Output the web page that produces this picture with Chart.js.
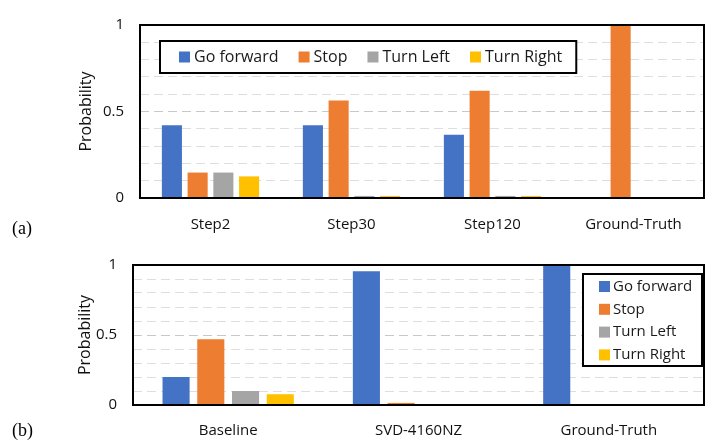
<!DOCTYPE html>
<html>
<head>
<meta charset="utf-8">
<script src="https://cdn.jsdelivr.net/npm/chart.js@4.4.0/dist/chart.umd.min.js"></script>
<style>
  body { margin: 0; background: #fff; }
  #wrap { position: relative; width: 713px; height: 445px; }
  .box { position: absolute; left: 0; width: 713px; }
  .tag { position: absolute; left: 12px; font: 18px "Liberation Serif", serif; color: #000; }
</style>
</head>
<body>
<div id="wrap">
  <div class="box" style="top:0;height:240px"><canvas id="chartA"></canvas></div>
  <div class="box" style="top:240px;height:205px"><canvas id="chartB"></canvas></div>
  <div class="tag" style="top:218px">(a)</div>
  <div class="tag" style="top:420px">(b)</div>
</div>
<script>
// series names + colours
const seriesLabels = ['Go forward', 'Stop', 'Turn Left', 'Turn Right'];
const seriesColors = ['#4472C4', '#ED7D31', '#A5A5A5', '#FFC000'];
const yTickLabels = [0, 0.5, 1];

// (a) steps
const stepsA = ['Step2', 'Step30', 'Step120', 'Ground-Truth'];
const goForwardA = [0.42, 0.42, 0.366, 0];
const stopA = [0.147, 0.563, 0.62, 1];
const turnLeftA = [0.147, 0.012, 0.012, 0];
const turnRightA = [0.125, 0.012, 0.012, 0];

// (b) methods
const methodsB = ['Baseline', 'SVD-4160NZ', 'Ground-Truth'];
const goForwardB = [0.2, 0.955, 1];
const stopB = [0.47, 0.015, 0];
const turnLeftB = [0.1, 0, 0];
const turnRightB = [0.077, 0.004, 0];

const FONT = '"Open Sans", "Liberation Sans", sans-serif';

function makeSets(arrs) {
    return arrs.map(function (d, i) {
        return {
            label: seriesLabels[i],
            data: d,
            backgroundColor: seriesColors[i],
            barPercentage: 0.78,
            categoryPercentage: 0.73
        };
    });
}

// black frame round the plot area
const frame = {
    id: 'frame',
    afterDatasetsDraw(chart) {
        const a = chart.chartArea, ctx = chart.ctx;
        ctx.save();
        ctx.strokeStyle = '#000';
        ctx.lineWidth = 2;
        ctx.strokeRect(a.left, a.top, a.right - a.left, a.bottom - a.top);
        ctx.restore();
    }
};

// legend drawn inside the plot with a boxed border
const boxLegend = {
    id: 'boxLegend',
    afterDraw(chart, args, opts) {
        const ctx = chart.ctx, a = chart.chartArea;
        ctx.save();
        ctx.font = opts.size + 'px ' + FONT;
        ctx.textBaseline = 'middle';
        const items = chart.data.datasets.map(function (d) {
            return { label: d.label, color: d.backgroundColor, w: ctx.measureText(d.label).width };
        });
        const sq = 11, gap = 4;
        let bx, by, bw, bh;
        if (opts.dir === 'row') {
            const sep = 20, pad = 19;
            bw = pad + 14 + sep * (items.length - 1);
            items.forEach(function (it) { bw += sq + gap + it.w; });
            bh = 32;
            bx = a.left + opts.dx;
            by = a.top + opts.dy;
            ctx.fillStyle = '#fff';
            ctx.fillRect(bx, by, bw, bh);
            ctx.strokeStyle = '#000';
            ctx.lineWidth = 2;
            ctx.strokeRect(bx, by, bw, bh);
            let x = bx + pad;
            const cy = by + bh / 2;
            items.forEach(function (it) {
                ctx.fillStyle = it.color;
                ctx.fillRect(x, cy - sq / 2, sq, sq);
                ctx.fillStyle = '#1a1a1a';
                ctx.fillText(it.label, x + sq + gap, cy);
                x += sq + gap + it.w + 20;
            });
        } else {
            bw = 119;
            bh = 92;
            bx = a.right - opts.dx - bw;
            by = a.top + opts.dy;
            ctx.fillStyle = '#fff';
            ctx.fillRect(bx, by, bw, bh);
            ctx.strokeStyle = '#000';
            ctx.lineWidth = 2;
            ctx.strokeRect(bx, by, bw, bh);
            items.forEach(function (it, i) {
                const cy = by + 12.5 + i * 22.8;
                ctx.fillStyle = it.color;
                ctx.fillRect(bx + 16, cy - sq / 2, sq, sq);
                ctx.fillStyle = '#1a1a1a';
                ctx.fillText(it.label, bx + 30, cy);
            });
        }
        ctx.restore();
    }
};

function makeChart(id, labels, sets, cfg) {
    return new Chart(document.getElementById(id), {
        type: 'bar',
        data: { labels: labels, datasets: makeSets(sets) },
        plugins: [frame, boxLegend],
        options: {
            responsive: true,
            maintainAspectRatio: false,
            animation: false,
            layout: { padding: { left: cfg.padLeft, top: cfg.padTop, right: 9, bottom: 0 } },
            plugins: {
                legend: { display: false },
                tooltip: { enabled: false },
                boxLegend: cfg.legend
            },
            scales: {
                x: {
                    grid: { display: false },
                    border: { display: false },
                    ticks: { color: '#111', padding: cfg.xPad, font: { family: FONT, size: 15 } },
                    afterFit: function (s) { s.height = cfg.xHeight; }
                },
                y: {
                    min: 0,
                    max: 1,
                    border: { display: false, dash: [9, 5] },
                    grid: {
                        drawTicks: false,
                        color: function (c) { return c.tick && Math.abs(c.tick.value - 0.5) < 1e-6 ? '#c8c8c8' : '#dedede'; },
                        lineWidth: 1
                    },
                    ticks: {
                        stepSize: 0.1,
                        autoSkip: false,
                        padding: 16,
                        color: '#111',
                        font: { family: FONT, size: 15 },
                        callback: function (v) {
                            const r = Math.round(v * 10) / 10;
                            return yTickLabels.includes(r) ? String(r) : '';
                        }
                    },
                    title: {
                        display: true,
                        text: 'Probability',
                        color: '#111',
                        padding: { top: cfg.titlePad, bottom: 0 },
                        font: { family: FONT, size: 16 }
                    },
                    afterFit: function (s) { s.width = cfg.yWidth; }
                }
            }
        }
    });
}

makeChart('chartA', stepsA, [goForwardA, stopA, turnLeftA, turnRightA], {
    padLeft: 68, padTop: 14, yWidth: 72, xHeight: 42, xPad: 10, titlePad: 9,
    legend: { dir: 'row', dx: 20, dy: 16, size: 16 }
});

makeChart('chartB', methodsB, [goForwardB, stopB, turnLeftB, turnRightB], {
    padLeft: 62, padTop: 16, yWidth: 71, xHeight: 40, xPad: 9, titlePad: 14,
    legend: { dir: 'column', dx: 2, dy: 9, size: 15 }
});
</script>
</body>
</html>
